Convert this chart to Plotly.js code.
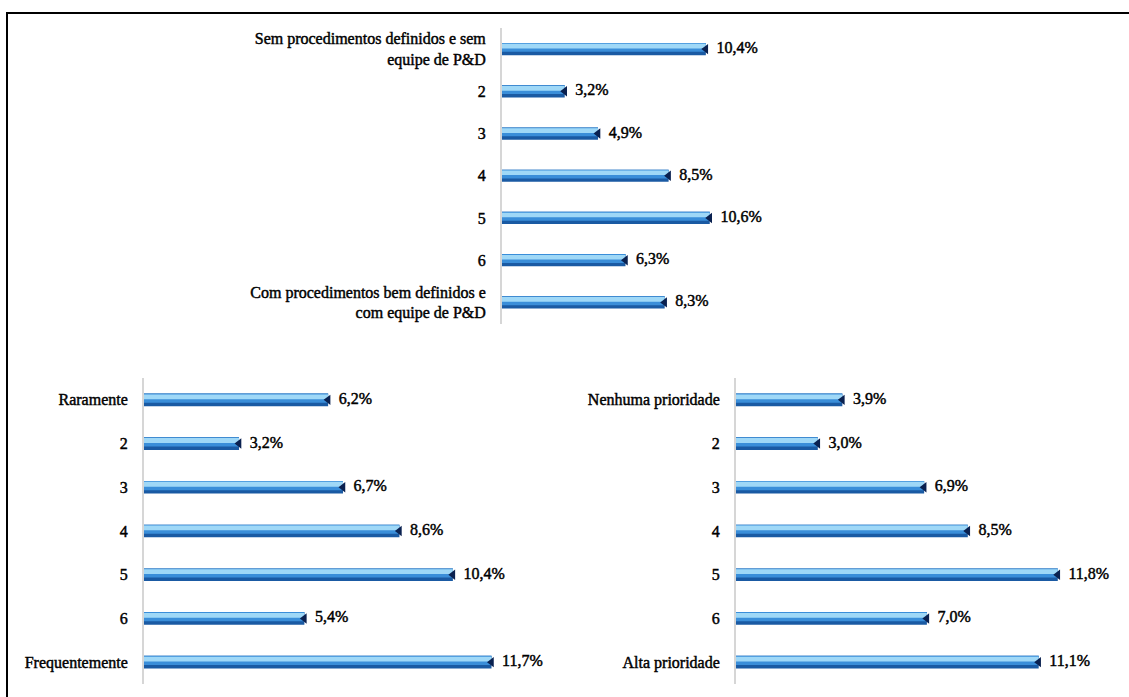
<!DOCTYPE html>
<html><head><meta charset="utf-8">
<script src="https://cdn.plot.ly/plotly-3.0.1.min.js"></script>
<style>
html,body{margin:0;padding:0;background:#fff}
#chart svg text { stroke: #000; stroke-width: 0.45px; }
</style>
</head><body><div id="chart" style="width:1129px;height:697px"></div>
<script>
const catsTop = ["Sem procedimentos definidos e sem<br>equipe de P&D","2","3","4","5","6","Com procedimentos bem definidos e<br>com equipe de P&D"];
const valsTop = [10.4,3.2,4.9,8.5,10.6,6.3,8.3];
const catsLeft = ["Raramente","2","3","4","5","6","Frequentemente"];
const valsLeft = [6.2,3.2,6.7,8.6,10.4,5.4,11.7];
const catsRight = ["Nenhuma prioridade","2","3","4","5","6","Alta prioridade"];
const valsRight = [3.9,3.0,6.9,8.5,11.8,7.0,11.1];

const W = 1129, H = 697;
const FONT = {family: "Liberation Serif", size: 16, color: "#000"};

function fmt(v){ return "\u00a0" + v.toFixed(1).replace(".", ",") + "%"; }

function panel(vals, xa, ya){
  const pos = vals.map((_, i) => i);
  const common = {x: vals, y: pos, type: "bar", orientation: "h", xaxis: xa, yaxis: ya, hoverinfo: "skip"};
  return [
    Object.assign({}, common, {width: 0.29, offset: -0.145, marker: {color: "#1a5aa3", line: {width: 0}}}),
    Object.assign({}, common, {width: 0.21, offset: -0.145, marker: {color: "#3a8ed9", line: {width: 0}}}),
    Object.assign({}, common, {width: 0.11, offset: -0.125, marker: {color: "#9fd8f7", line: {width: 0}}}),
    {x: vals, y: pos, type: "scatter", mode: "markers+text", xaxis: xa, yaxis: ya, hoverinfo: "skip", cliponaxis: false,
     marker: {symbol: "triangle-left", size: 9, color: "#0a2150"},
     text: vals.map(fmt), textposition: "middle right", textfont: FONT}
  ];
}

const data = [].concat(panel(valsTop, "x", "y"), panel(valsLeft, "x2", "y2"), panel(valsRight, "x3", "y3"));

function xax(x0, x1, pxPer){
  return {domain: [x0 / W, x1 / W], range: [0, (x1 - x0) / pxPer], showgrid: false, zeroline: false,
          showticklabels: false, showline: false, ticks: "", fixedrange: true};
}
function yax(cats, top, bottom, anchor){
  return {domain: [1 - bottom / H, 1 - top / H], range: [cats.length - 0.5, -0.5], anchor: anchor,
          tickvals: cats.map((_, i) => i), ticktext: cats, ticks: "", ticklabelstandoff: 11,
          showgrid: false, zeroline: false, showline: true, linecolor: "#d6d6d6", linewidth: 2,
          tickfont: FONT, fixedrange: true};
}

const layout = {
  width: W, height: H, margin: {l: 0, r: 0, t: 0, b: 0},
  paper_bgcolor: "#fff", plot_bgcolor: "rgba(0,0,0,0)",
  barmode: "overlay", showlegend: false,
  font: FONT,
  xaxis: Object.assign(xax(502, 820, 19.6), {anchor: "y"}),
  yaxis: yax(catsTop, 28, 323.5, "x"),
  xaxis2: Object.assign(xax(144, 540, 29.7), {anchor: "y2"}),
  yaxis2: yax(catsLeft, 378, 684, "x2"),
  xaxis3: Object.assign(xax(736, 1100, 27.27), {anchor: "y3"}),
  yaxis3: yax(catsRight, 378, 684, "x3"),
  shapes: [{type: "rect", xref: "paper", yref: "paper", x0: 7 / W, x1: 1.02, y0: -0.02, y1: 1 - 13 / H,
            line: {color: "#000", width: 2}, fillcolor: "rgba(0,0,0,0)"}]
};

Plotly.newPlot("chart", data, layout, {displayModeBar: false, staticPlot: true});
</script></body></html>
